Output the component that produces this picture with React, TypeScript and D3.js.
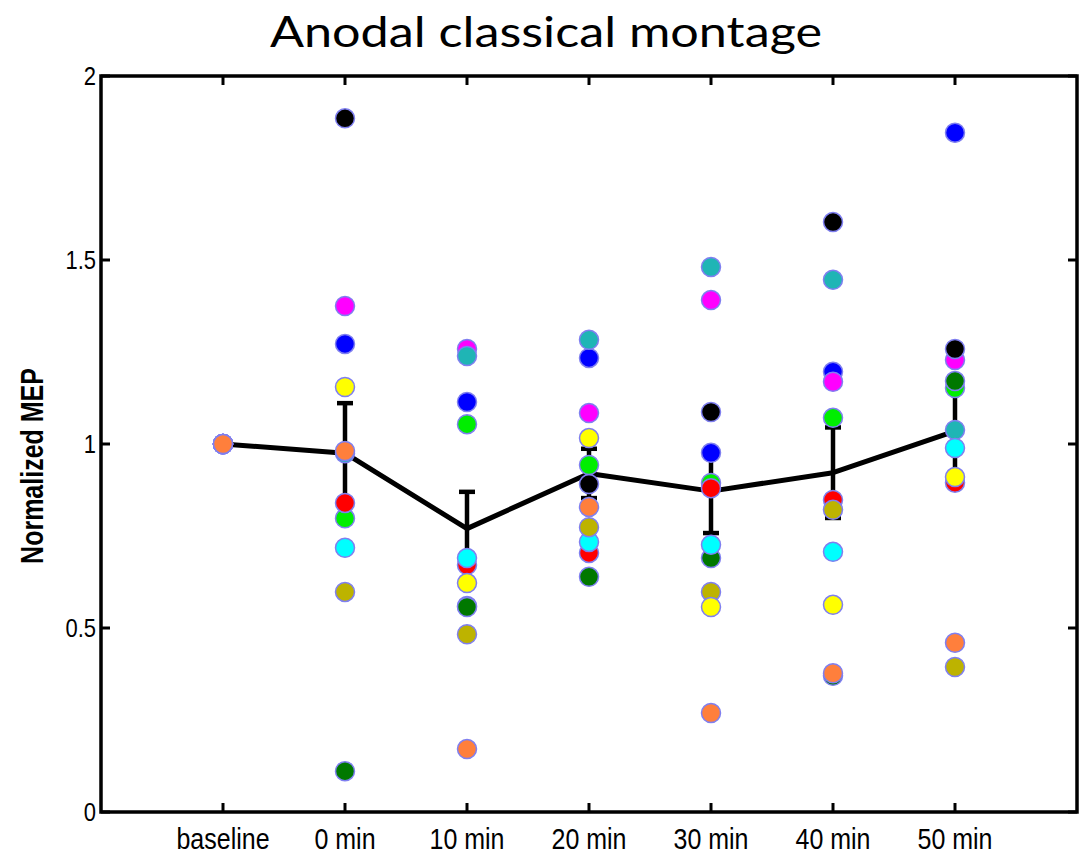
import React from "react";
import * as d3 from "d3";

const timeLabels = ["baseline", "0 min", "10 min", "20 min", "30 min", "40 min", "50 min"];
const yTicks = [0, 0.5, 1, 1.5, 2];
const yTickLabels = ["0", "0.5", "1", "1.5", "2"];

// subjects in draw order (later drawn on top); values for 0..50 min
const subjectColors = ["#0000ff", "#ff00ff", "#000000", "#1fb5b5", "#00ee00", "#007800", "#ff0000", "#00ffff", "#bdb300", "#ffff00", "#ff7f3c"];
const blue = [1.272, 1.114, 1.234, 0.976, 1.196, 1.846];
const magenta = [1.375, 1.258, 1.084, 1.391, 1.169, 1.228];
const black = [1.885, 0.56, 0.891, 1.087, 1.603, 1.258];
const teal = [0.975, 1.239, 1.283, 1.481, 1.446, 1.038];
const green = [0.798, 1.054, 0.943, 0.894, 1.071, 1.152];
const darkGreen = [0.111, 0.557, 0.639, 0.69, 0.37, 1.171];
const red = [0.84, 0.671, 0.704, 0.88, 0.848, 0.895];
const cyan = [0.718, 0.69, 0.734, 0.726, 0.707, 0.989];
const olive = [0.598, 0.483, 0.774, 0.598, 0.821, 0.394];
const yellow = [1.155, 0.622, 1.016, 0.557, 0.563, 0.91];
const orange = [0.981, 0.171, 0.829, 0.269, 0.377, 0.46];
const subjects = [blue, magenta, black, teal, green, darkGreen, red, cyan, olive, yellow, orange];
const baselineValue = 1;

const meanValues = [1, 0.975, 0.77, 0.92, 0.872, 0.922, 1.035];
const semValues = [0, 0.136, 0.1, 0.067, 0.114, 0.123, 0.125];

const W = 1079;
const H = 856;
const left = 101;
const right = 1077;
const top = 76;
const bottom = 812;

export default function App() {
  const x = d3.scaleLinear().domain([-1, 7]).range([left, right]);
  const y = d3.scaleLinear().domain([0, 2]).range([bottom, top]);
  const line = d3
    .line<number>()
    .x((_, i) => x(i))
    .y((d) => y(d));
  const r = 9.5;
  const tickFont = "'Liberation Sans Narrow', 'Liberation Sans', Arial, Helvetica, sans-serif";
  const plainFont = "'Liberation Sans', Arial, Helvetica, sans-serif";

  return (
    <svg
      width={W}
      height={H}
      style={{ position: "absolute", left: 0, top: 0, background: "#fff" }}
    >
      <rect x={0} y={0} width={W} height={H} fill="#fff" />
      {/* title */}
      <text
        x={546}
        y={47}
        textAnchor="middle"
        fontFamily="Lato, 'Open Sans', sans-serif"
        fontSize={42}
        textLength={552}
        lengthAdjust="spacingAndGlyphs"
        fill="#000"
      >
        Anodal classical montage
      </text>

      {/* mean line */}
      <path d={line(meanValues) || ""} fill="none" stroke="#000" strokeWidth={5} strokeLinejoin="round" />
      {/* error bars */}
      {meanValues.map((m, i) =>
        semValues[i] > 0 ? (
          <g key={"e" + i} stroke="#000" strokeWidth={4.5}>
            <line x1={x(i)} x2={x(i)} y1={y(m - semValues[i])} y2={y(m + semValues[i])} />
            <line x1={x(i) - 8} x2={x(i) + 8} y1={y(m + semValues[i])} y2={y(m + semValues[i])} />
            <line x1={x(i) - 8} x2={x(i) + 8} y1={y(m - semValues[i])} y2={y(m - semValues[i])} />
          </g>
        ) : null
      )}

      {/* subject points */}
      {subjects.map((vals, s) => (
        <g key={"s" + s}>
          <circle cx={x(0)} cy={y(baselineValue)} r={r} fill={subjectColors[s]} stroke="#7f7ff0" strokeWidth={1.5} />
          {vals.map((v, i) => (
            <circle
              key={i}
              cx={x(i + 1)}
              cy={y(v)}
              r={r}
              fill={subjectColors[s]}
              stroke="#7f7ff0"
              strokeWidth={1.5}
            />
          ))}
        </g>
      ))}

      {/* axes box */}
      <rect x={left} y={top} width={right - left} height={bottom - top} fill="none" stroke="#000" strokeWidth={3.5} />
      {/* x ticks */}
      {timeLabels.map((lab, i) => (
        <g key={"xt" + i}>
          <line x1={x(i)} x2={x(i)} y1={bottom} y2={bottom - 9} stroke="#000" strokeWidth={3} />
          <line x1={x(i)} x2={x(i)} y1={top} y2={top + 9} stroke="#000" strokeWidth={3} />
          <text
            transform={`translate(${x(i)},849) scale(1,1.15)`}
            textAnchor="middle"
            fontFamily={tickFont}
            fontSize={25}
            fill="#000"
          >
            {lab}
          </text>
        </g>
      ))}
      {/* y ticks */}
      {yTicks.map((t, i) => (
        <g key={"yt" + i}>
          <line x1={left} x2={left + 9} y1={y(t)} y2={y(t)} stroke="#000" strokeWidth={3} />
          <line x1={right} x2={right - 9} y1={y(t)} y2={y(t)} stroke="#000" strokeWidth={3} />
          <text
            transform={`translate(96,${y(t) + 9}) scale(1,1.15)`}
            textAnchor="end"
            fontFamily={plainFont}
            fontSize={22}
            fill="#000"
          >
            {yTickLabels[i]}
          </text>
        </g>
      ))}
      {/* y label */}
      <text
        transform={`translate(43,${(top + bottom) / 2 + 22}) rotate(-90) scale(1,1.25)`}
        textAnchor="middle"
        fontFamily={tickFont}
        fontWeight="bold"
        fontSize={25}
        fill="#000"
      >
        Normalized MEP
      </text>
    </svg>
  );
}
